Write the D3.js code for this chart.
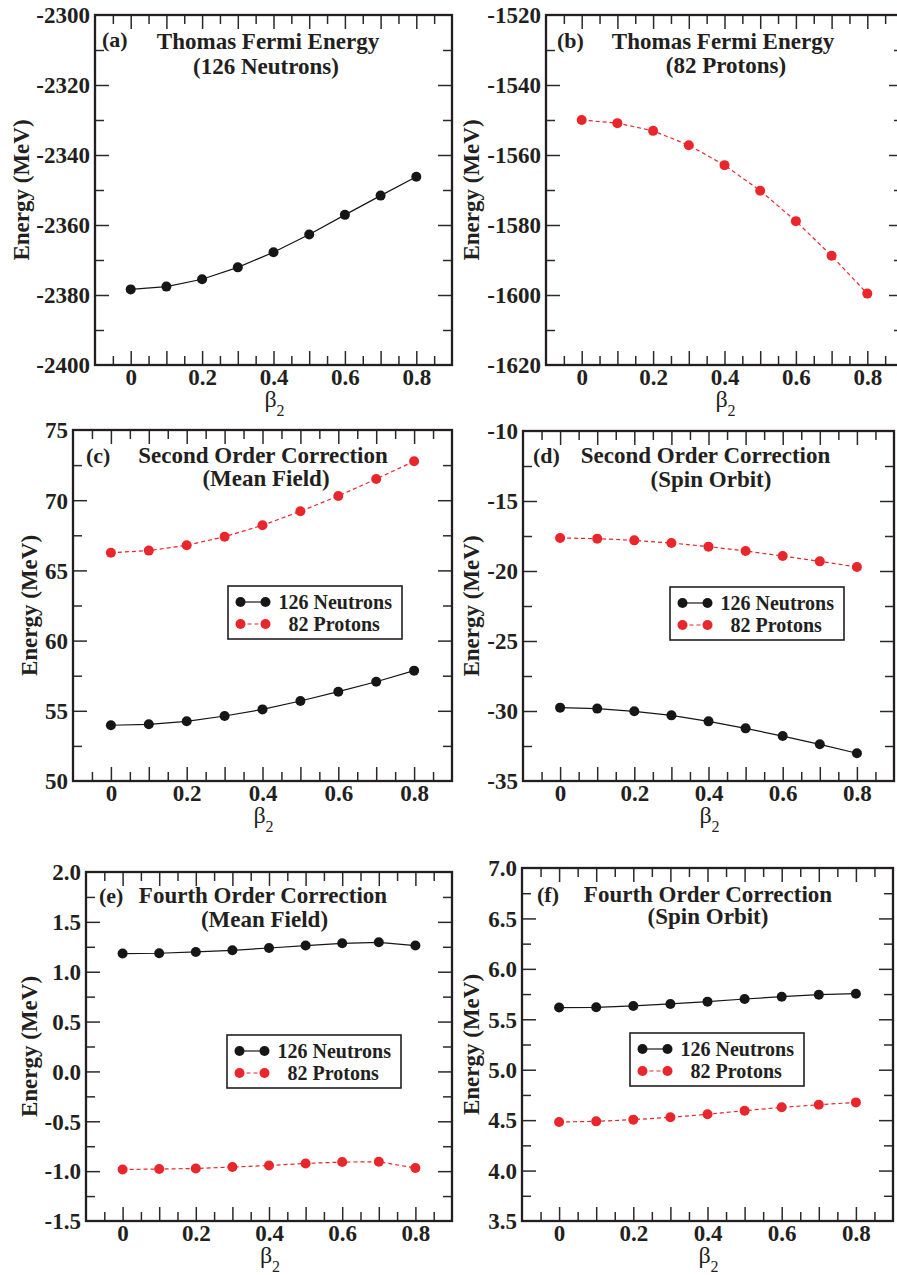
<!DOCTYPE html>
<html>
<head>
<meta charset="utf-8">
<script src="https://cdn.jsdelivr.net/npm/d3@7"></script>
<style>
  html, body { margin: 0; padding: 0; background: #fff; }
  svg { display: block; }
  text { font-family: "Liberation Serif", "Times New Roman", serif; fill: #231f20; }
</style>
</head>
<body>
<svg id="chart" width="897" height="1275"></svg>
<script>
// ---------------- DATA ----------------
const beta2 = [0, 0.1, 0.2, 0.3, 0.4, 0.5, 0.6, 0.7, 0.8];

// (a) Thomas Fermi energy, 126 neutrons
const tfNeutrons = [-2378.4, -2377.6, -2375.5, -2372.1, -2367.8, -2362.7, -2357.1, -2351.6, -2346.2];
// (b) Thomas Fermi energy, 82 protons
const tfProtons = [-1550.0, -1550.9, -1553.1, -1557.2, -1562.9, -1570.2, -1578.9, -1588.8, -1599.6];
// (c) second order correction, mean field
const mf2Neutrons = [53.97, 54.04, 54.25, 54.63, 55.10, 55.70, 56.36, 57.07, 57.86];
const mf2Protons  = [66.26, 66.41, 66.79, 67.40, 68.21, 69.21, 70.30, 71.51, 72.77];
// (d) second order correction, spin orbit
const so2Neutrons = [-29.76, -29.83, -30.02, -30.31, -30.74, -31.24, -31.79, -32.38, -33.02];
const so2Protons  = [-17.64, -17.69, -17.81, -18.00, -18.26, -18.57, -18.93, -19.31, -19.71];
// (e) fourth order correction, mean field
const mf4Neutrons = [1.182, 1.185, 1.198, 1.215, 1.238, 1.262, 1.285, 1.295, 1.262];
const mf4Protons  = [-0.983, -0.979, -0.973, -0.959, -0.943, -0.923, -0.909, -0.906, -0.969];
// (f) fourth order correction, spin orbit
const so4Neutrons = [5.616, 5.619, 5.632, 5.652, 5.675, 5.701, 5.724, 5.744, 5.754];
const so4Protons  = [4.482, 4.488, 4.505, 4.528, 4.558, 4.594, 4.627, 4.653, 4.676];

// tick labels
const xMajorTicks = [0, 0.1, 0.2, 0.3, 0.4, 0.5, 0.6, 0.7, 0.8];
const xLabelTicks = [0, 0.2, 0.4, 0.6, 0.8];
const xMinorTicks = [-0.05, 0.05, 0.15, 0.25, 0.35, 0.45, 0.55, 0.65, 0.75, 0.85];
const yTicksA = [-2400, -2380, -2360, -2340, -2320, -2300];
const yTicksB = [-1620, -1600, -1580, -1560, -1540, -1520];
const yTicksC = [50, 55, 60, 65, 70, 75];
const yTicksD = [-35, -30, -25, -20, -15, -10];
const yTicksE = [-1.5, -1.0, -0.5, 0.0, 0.5, 1.0, 1.5, 2.0];
const yTicksF = [3.5, 4.0, 4.5, 5.0, 5.5, 6.0, 6.5, 7.0];

const seriesNames = ["126 Neutrons", "82 Protons"];
const xLabel = "β";
const yLabel = "Energy (MeV)";

// ---------------- LAYOUT ----------------
const BLACK = "#161616", RED = "#e8262b", FRAME = "#231f20";

const panels = [
  { tag: "(a)", title: ["Thomas Fermi Energy", "(126 Neutrons)"],
    box: [95, 452, 15, 365], yTicks: yTicksA, dec: 0,
    series: [{ v: tfNeutrons, c: BLACK, dash: null }],
    tagPos: [102, 47], t1: [268, 49], t2: [266, 74], yLabX: 23, legend: null },
  { tag: "(b)", title: ["Thomas Fermi Energy", "(82 Protons)"],
    box: [546, 903, 15, 365], yTicks: yTicksB, dec: 0,
    series: [{ v: tfProtons, c: RED, dash: "4,3" }],
    tagPos: [557, 48], t1: [723, 49], t2: [726, 73], yLabX: 473, legend: null },
  { tag: "(c)", title: ["Second Order Correction", "(Mean Field)"],
    box: [73, 452, 430, 781], yTicks: yTicksC, dec: 0,
    series: [{ v: mf2Neutrons, c: BLACK, dash: null }, { v: mf2Protons, c: RED, dash: "4,3" }],
    tagPos: [86, 463], t1: [263, 463], t2: [266, 486], yLabX: 31.7, legend: [228, 586] },
  { tag: "(d)", title: ["Second Order Correction", "(Spin Orbit)"],
    box: [523, 894, 431, 781], yTicks: yTicksD, dec: 0,
    series: [{ v: so2Neutrons, c: BLACK, dash: null }, { v: so2Protons, c: RED, dash: "4,3" }],
    tagPos: [533, 463], t1: [705.5, 463], t2: [711, 487], yLabX: 473, legend: [670, 587] },
  { tag: "(e)", title: ["Fourth Order Correction", "(Mean Field)"],
    box: [86, 452, 872, 1221], yTicks: yTicksE, dec: 1,
    series: [{ v: mf4Neutrons, c: BLACK, dash: null }, { v: mf4Protons, c: RED, dash: "4,3" }],
    tagPos: [99, 903], t1: [263, 903], t2: [264.5, 927], yLabX: 31.7, legend: [227, 1035] },
  { tag: "(f)", title: ["Fourth Order Correction", "(Spin Orbit)"],
    box: [522, 893, 868, 1221], yTicks: yTicksF, dec: 1,
    series: [{ v: so4Neutrons, c: BLACK, dash: null }, { v: so4Protons, c: RED, dash: "4,3" }],
    tagPos: [537, 902], t1: [708, 902], t2: [708, 924], yLabX: 473, legend: [630, 1033] }
];

const svg = d3.select("#chart");
const MAJ = 14, MIN = 9;

function styleAxis(g) {
  g.select(".domain").remove();
  g.selectAll(".tick line").attr("stroke", "#2a2a2a").attr("stroke-width", 1.5);
}

panels.forEach(p => {
  const [L, R, T, B] = p.box;
  const x = d3.scaleLinear().domain([-0.1, 0.9]).range([L, R]);
  const yd = d3.extent(p.yTicks);
  const y = d3.scaleLinear().domain(yd).range([B, T]);
  const g = svg.append("g");

  // y minor ticks (midpoints between majors)
  const yMinor = d3.pairs(p.yTicks).map(([a, b]) => (a + b) / 2);
  const yInner = p.yTicks.slice(1, -1);

  // bottom axis: majors with labels every 0.2
  const fmtX = d => xLabelTicks.some(t => Math.abs(t - d) < 1e-9) ? String(+d.toFixed(1)) : "";
  const gb = g.append("g").attr("transform", `translate(0,${B})`)
    .call(d3.axisBottom(x).tickValues(xMajorTicks).tickSize(-MAJ).tickPadding(0).tickFormat(fmtX));
  styleAxis(gb);
  gb.selectAll(".tick text").attr("y", 20).attr("dy", null)
    .style("font-size", "23px").style("font-weight", "bold").attr("fill", "#231f20");
  const gbm = g.append("g").attr("transform", `translate(0,${B})`)
    .call(d3.axisBottom(x).tickValues(xMinorTicks).tickSize(-MIN).tickFormat(""));
  styleAxis(gbm);
  // top axis
  const gt = g.append("g").attr("transform", `translate(0,${T})`)
    .call(d3.axisTop(x).tickValues(xMajorTicks).tickSize(-MAJ).tickFormat(""));
  styleAxis(gt);
  const gtm = g.append("g").attr("transform", `translate(0,${T})`)
    .call(d3.axisTop(x).tickValues(xMinorTicks).tickSize(-MIN).tickFormat(""));
  styleAxis(gtm);

  // left axis with labels
  const fmtY = d => d.toFixed(p.dec);
  const gl = g.append("g").attr("transform", `translate(${L},0)`)
    .call(d3.axisLeft(y).tickValues(p.yTicks).tickSize(-MAJ).tickPadding(5).tickFormat(fmtY));
  styleAxis(gl);
  gl.selectAll(".tick line").filter(d => !yInner.includes(d)).remove();
  gl.selectAll(".tick text").attr("x", -5).attr("dy", "0.34em")
    .style("font-size", "23px").style("font-weight", "bold").attr("fill", "#231f20");
  const glm = g.append("g").attr("transform", `translate(${L},0)`)
    .call(d3.axisLeft(y).tickValues(yMinor).tickSize(-MIN).tickFormat(""));
  styleAxis(glm);
  // right axis
  const gr = g.append("g").attr("transform", `translate(${R},0)`)
    .call(d3.axisRight(y).tickValues(yInner).tickSize(-MAJ).tickFormat(""));
  styleAxis(gr);
  const grm = g.append("g").attr("transform", `translate(${R},0)`)
    .call(d3.axisRight(y).tickValues(yMinor).tickSize(-MIN).tickFormat(""));
  styleAxis(grm);

  // frame
  g.append("rect").attr("x", L).attr("y", T).attr("width", R - L).attr("height", B - T)
    .attr("fill", "none").attr("stroke", FRAME).attr("stroke-width", 2.3);

  // data
  const line = d3.line().x((d, i) => x(beta2[i])).y(d => y(d));
  p.series.forEach(s => {
    g.append("path").datum(s.v).attr("d", line)
      .attr("fill", "none").attr("stroke", s.c).attr("stroke-width", 1.2)
      .attr("stroke-dasharray", s.dash);
    g.selectAll(null).data(s.v).enter().append("circle")
      .attr("cx", (d, i) => x(beta2[i])).attr("cy", d => y(d)).attr("r", 5)
      .attr("fill", s.c);
  });

  // panel tag and title
  g.append("text").attr("x", p.tagPos[0]).attr("y", p.tagPos[1]).text(p.tag)
    .style("font-size", "22px").style("font-weight", "bold");
  g.append("text").attr("x", p.t1[0]).attr("y", p.t1[1]).attr("text-anchor", "middle")
    .text(p.title[0]).style("font-size", "23px").style("font-weight", "bold");
  g.append("text").attr("x", p.t2[0]).attr("y", p.t2[1]).attr("text-anchor", "middle")
    .text(p.title[1]).style("font-size", "23px").style("font-weight", "bold");

  // y axis label
  const cy = (T + B) / 2;
  g.append("text").attr("transform", `translate(${p.yLabX},${cy}) rotate(-90)`)
    .attr("text-anchor", "middle").attr("dy", "0.24em")
    .style("font-size", "23px").style("font-weight", "bold").text(yLabel);

  // x axis label beta_2
  const xl = g.append("text").attr("x", (L + Math.min(R, 897 + 6)) / 2 + 1).attr("y", B + 42)
    .attr("text-anchor", "middle").style("font-size", "24px");
  xl.append("tspan").text(xLabel);
  xl.append("tspan").attr("dy", 9).style("font-size", "16px").text("2");

  // legend
  if (p.legend) {
    const [lx, ly] = p.legend;
    const lg = g.append("g").attr("transform", `translate(${lx},${ly})`);
    lg.append("rect").attr("width", 174).attr("height", 53)
      .attr("fill", "#fff").attr("stroke", FRAME).attr("stroke-width", 1.6);
    const rows = [{ c: BLACK, dash: null, dx: 50.5 }, { c: RED, dash: "4,3", dx: 60.5 }];
    rows.forEach((r, i) => {
      const ry = 16 + i * 22;
      lg.append("line").attr("x1", 12.5).attr("x2", 37.5).attr("y1", ry).attr("y2", ry)
        .attr("stroke", r.c).attr("stroke-width", 1.2).attr("stroke-dasharray", r.dash);
      [12.5, 37.5].forEach(cx => lg.append("circle").attr("cx", cx).attr("cy", ry).attr("r", 5).attr("fill", r.c));
      lg.append("text").attr("x", r.dx).attr("y", ry).attr("dy", "0.36em")
        .style("font-size", "20px").style("font-weight", "bold").text(seriesNames[i]);
    });
  }
});
</script>
</body>
</html>
